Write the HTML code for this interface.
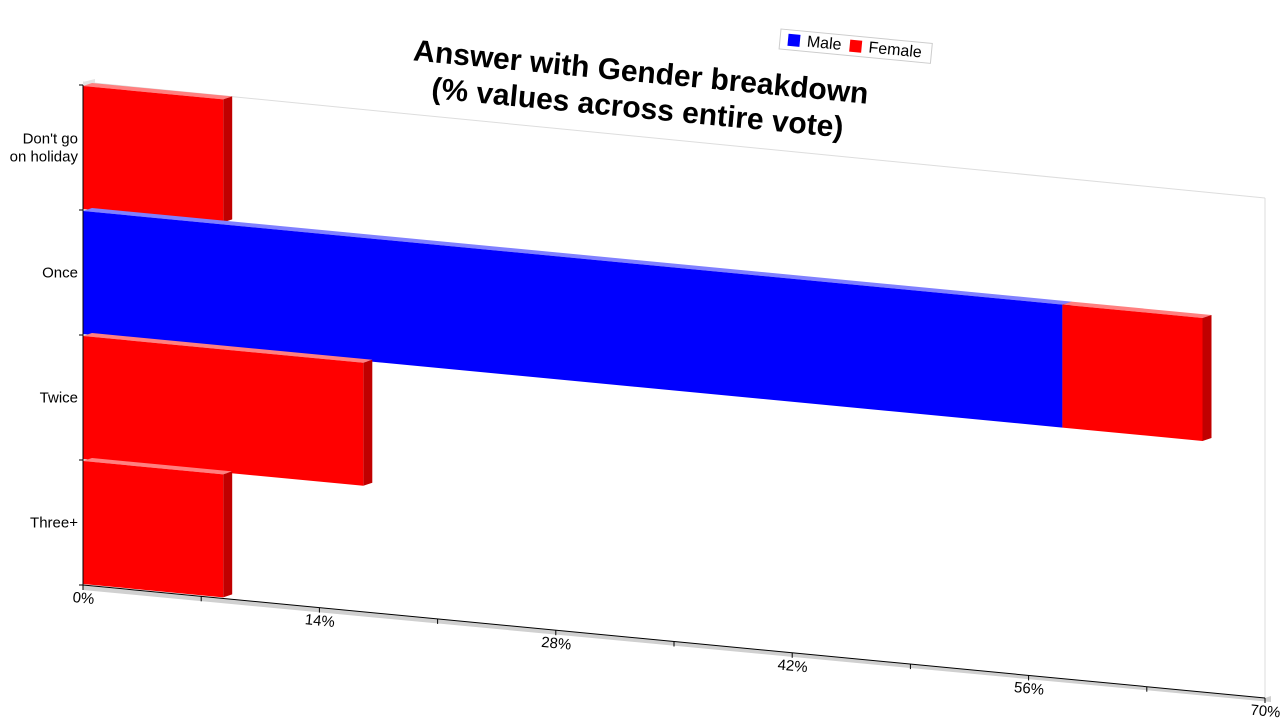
<!DOCTYPE html>
<html><head><meta charset="utf-8"><style>
html,body{margin:0;padding:0;background:#fff;}
svg{display:block;font-family:"Liberation Sans",sans-serif;}
</style></head><body>
<svg id="chart" width="1280" height="720" viewBox="0 0 1280 720" xmlns="http://www.w3.org/2000/svg">
<g id="grid"></g>
<g id="bars"></g>
<g id="axes"></g>
<text transform="translate(640,82) rotate(5.46)" text-anchor="middle" font-size="30" font-weight="bold">
<tspan x="0" y="0">Answer with Gender breakdown</tspan><tspan x="0" y="36">(% values across entire vote)</tspan></text>
<g transform="translate(781,29) rotate(5.46)">
<rect x="0" y="0" width="152" height="20" fill="#fff" stroke="#ccc"/>
<rect x="8" y="4" width="12" height="12" fill="#0000ff"/>
<text x="27" y="15" font-size="16">Male</text>
<rect x="70" y="4" width="12" height="12" fill="#ff0000"/>
<text x="89" y="15" font-size="16">Female</text>
</g>
</svg>
<script>
const categories = ["Don't go\non holiday","Once","Twice","Three+"];
const maleValues = [0, 58, 0, 0];
const femaleValues = [8.3, 8.3, 16.6, 8.3];
const tickValues = [0,7,14,21,28,35,42,49,56,63,70];
const tickLabels = ["0%","14%","28%","42%","56%","70%"];
const labelValues = [0,14,28,42,56,70];

const NS="http://www.w3.org/2000/svg";
const X0=83, X1=1265, XMAX=70, TOP=85, BOT=585, SLOPE=0.0956;
const DX=9, DY=-3;
const xs=v=>X0+v/XMAX*(X1-X0);
const py=(px,y)=>y+(px-X0)*SLOPE;
const bandH=(BOT-TOP)/categories.length;
function el(tag,attrs,parent){const e=document.createElementNS(NS,tag);for(const k in attrs)e.setAttribute(k,attrs[k]);parent.appendChild(e);return e;}
const grid=document.getElementById('grid'),bars=document.getElementById('bars'),axes=document.getElementById('axes');
const pts=a=>a.map(p=>p[0].toFixed(1)+','+p[1].toFixed(1)).join(' ');

// frame
let f=el('polygon',{points:pts([[X0,py(X0,BOT)],[X1,py(X1,BOT)],[X1+6,py(X1,BOT)-2],[X1+6,py(X1,BOT)+4],[X0,py(X0,BOT)+5]]),fill:'#d0d0d0'},grid);

let l=el('line',{x1:X0,y1:py(X0,TOP)-3,x2:X1,y2:py(X1,TOP),stroke:'#ddd'},grid);

l=el('line',{x1:X1,y1:py(X1,TOP),x2:X1,y2:py(X1,BOT),stroke:'#ddd'},grid);

l=el('polygon',{points:pts([[X0,TOP-3],[X0+12,TOP-6],[X0+12,BOT-3],[X0,BOT]]),fill:'#e4e4e4'},grid);


function bar(v0,v1,i,front,top,side,name){
  const a=xs(v0),b=xs(v1),y0=TOP+i*bandH+1,y1=TOP+(i+1)*bandH-1;
  const g=el('g',{},bars);
  
  el('polygon',{points:pts([[a,py(a,y0)],[b,py(b,y0)],[b+DX,py(b,y0)+DY],[a+DX,py(a,y0)+DY]]),fill:top},g);
  el('polygon',{points:pts([[b,py(b,y0)],[b+DX,py(b,y0)+DY],[b+DX,py(b,y1)+DY],[b,py(b,y1)]]),fill:side},g);
  el('polygon',{points:pts([[a,py(a,y0)],[b,py(b,y0)],[b,py(b,y1)],[a,py(a,y1)]]),fill:front},g);
}
categories.forEach((c,i)=>{
  const m=maleValues[i],fv=femaleValues[i];
  if(m>0) bar(0,m,i,'#0000ff','#8080ff','#0000c0','bar-male-'+i);
  if(fv>0) bar(m,m+fv,i,'#ff0000','#ff8080','#c00000','bar-female-'+i);
});

// axes
l=el('line',{x1:X0,y1:TOP,x2:X0,y2:BOT,stroke:'#000'},axes);

l=el('line',{x1:X0,y1:BOT,x2:X1,y2:py(X1,BOT),stroke:'#000'},axes);

for(let i=0;i<=categories.length;i++){
  const t=el('line',{x1:X0-4,y1:TOP+i*bandH,x2:X0,y2:TOP+i*bandH,stroke:'#000'},axes);
  
}
categories.forEach((c,i)=>{
  const lines=c.split('\n');const cy=TOP+(i+0.5)*bandH;
  const t=el('text',{x:78,y:cy-(lines.length-1)*9+5,'text-anchor':'end','font-size':15},axes);
  
  lines.forEach((s,k)=>{const sp=el('tspan',{x:78,dy:k?18:0},t);sp.textContent=s;});
});
tickValues.forEach(v=>{
  const x=xs(v);const t=el('line',{x1:x,y1:py(x,BOT),x2:x,y2:py(x,BOT)+5,stroke:'#000'},axes);
  
});
labelValues.forEach((v,k)=>{
  const x=xs(v);
  const t=el('text',{transform:`translate(${x},${py(x,BOT)+18}) rotate(5.46)`,'text-anchor':'middle','font-size':15},axes);
  
  t.textContent=tickLabels[k];
});
</script>
</body></html>
